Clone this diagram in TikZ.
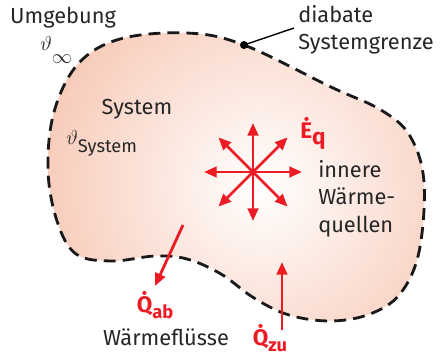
\documentclass[tikz,border=0pt]{standalone}
\usepackage{fontspec}
\setmainfont{Fira Sans}
\usetikzlibrary{arrows.meta, calc}

\definecolor{heatred}{RGB}{237,28,36}
\definecolor{blobfill}{RGB}{242,162,130}

% outline of the system (pixel grid, y downwards)
\newcommand{\blobpath}{plot[smooth cycle, tension=0.6] coordinates {
    (187,33) (244,45) (331,87) (381,110) (410,136) (424,182) (419,252)
    (400,294) (370,314) (331,321) (289,315) (254,298) (221,274) (187,259)
    (155,256) (112,261) (76,254) (57,221) (48,170) (54,112) (78,64) (120,39)}}

\begin{document}
\begin{tikzpicture}[x=0.025cm, y=-0.025cm,
    txt/.style={font=\fontsize{15.5}{19.5}\selectfont, text=black!85, inner sep=0pt},
    heattxt/.style={font=\fontsize{16}{19}\selectfont\bfseries, text=heatred, inner sep=0pt},
    heat/.style={heatred, line width=2pt, -{Triangle[length=9pt, width=7.5pt]}},
    border/.style={line width=2pt, dash pattern=on 8.5pt off 5pt, black!90}]

    \useasboundingbox (0,0) rectangle (443,356);

    % System with radial glow
    \begin{scope}
        \clip \blobpath;
        \shade[inner color=white, outer color=blobfill] (262,185) circle (400);
    \end{scope}
    \draw[border] \blobpath;

    % Texts
    \node[txt] (umgebung) at (63,18) {Umgebung};
    \node[txt, anchor=west] (tinf) at (40,50) {$\vartheta$\raisebox{-1.1ex}{$\infty$}};
    \node[txt] (system) at (137,109) {System};
    \node[txt, anchor=west] (tsys) at (66,143) {$\vartheta$\raisebox{-0.7ex}{\fontsize{13}{13}\selectfont System}};
    \node[txt, anchor=north west, align=left] (grenze) at (298,5) {diabate\\Systemgrenze};
    \node[txt, anchor=north west, align=left] (quellen) at (318,160) {innere\\Wärme-\\quellen};
    \node[txt] (fluesse) at (166,337) {Wärmeflüsse};

    % Boundary marker
    \fill[black] (244,45) circle (4) coordinate (dot);
    \coordinate (lead) at (294,28);
    \draw[line width=1pt] (dot) -- (lead);

    % Internal sources
    \coordinate (star) at (253,172);
    \foreach \a in {0,45,...,315}
        \draw[heat] (star) -- ++(\a:49);
    \node[heattxt] (eq) at (313,133) {Ė\raisebox{-0.5ex}{q}};

    % Heat flows across boundary
    \coordinate (abstart) at (183,225);
    \coordinate (abtip) at (155,286);
    \draw[heat] (abstart) -- (abtip);
    \node[heattxt] (qab) at (155,305) {Q̇\raisebox{-0.5ex}{\fontsize{13}{13}\selectfont ab}};

    \coordinate (zustart) at (282,330);
    \coordinate (zutip) at (282,262);
    \draw[heat] (zustart) -- (zutip);
    \node[heattxt] (qzu) at (270,338) {Q̇\raisebox{-0.5ex}{\fontsize{13}{13}\selectfont zu}};
\end{tikzpicture}
\end{document}
